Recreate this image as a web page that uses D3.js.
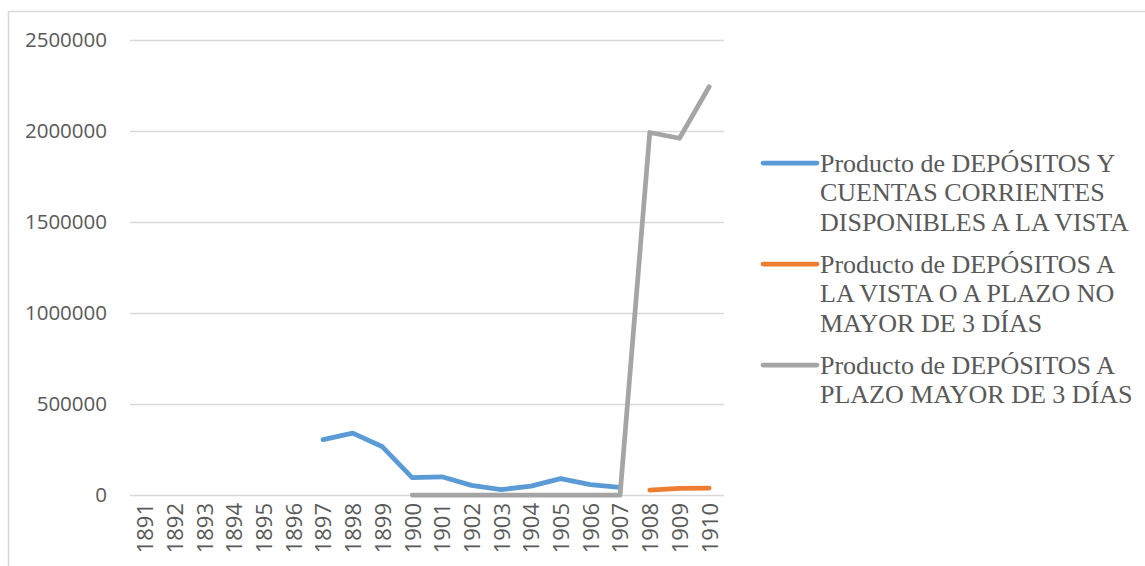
<!DOCTYPE html>
<html>
<head>
<meta charset="utf-8">
<script src="https://cdn.jsdelivr.net/npm/d3@7"></script>
<style>
  body { margin: 0; background: #fff; }
  #chart svg { display: block; }
</style>
</head>
<body>
<div id="chart"></div>
<script>
var years = ["1891", "1892", "1893", "1894", "1895", "1896", "1897", "1898", "1899", "1900",
             "1901", "1902", "1903", "1904", "1905", "1906", "1907", "1908", "1909", "1910"];

// Producto de DEPÓSITOS Y CUENTAS CORRIENTES DISPONIBLES A LA VISTA
var vista = [null, null, null, null, null, null, 304000, 340000, 265000, 95000,
             100000, 53000, 30000, 49000, 90000, 57000, 42000, null, null, null];
// Producto de DEPÓSITOS A LA VISTA O A PLAZO NO MAYOR DE 3 DÍAS
var plazoCorto = [null, null, null, null, null, null, null, null, null, null,
                  null, null, null, null, null, null, null, 27000, 37000, 38000];
// Producto de DEPÓSITOS A PLAZO MAYOR DE 3 DÍAS
var plazoLargo = [null, null, null, null, null, null, null, null, null, 0,
                  0, 0, 0, 0, 0, 0, 0, 1992000, 1960000, 2243000];

var yTicks = [0, 500000, 1000000, 1500000, 2000000, 2500000];

var series = [
  { lines: ["Producto de DEPÓSITOS Y", "CUENTAS CORRIENTES", "DISPONIBLES A LA VISTA"], values: vista, color: "#5B9BD5" },
  { lines: ["Producto de DEPÓSITOS A", "LA VISTA O A PLAZO NO", "MAYOR DE 3 DÍAS"], values: plazoCorto, color: "#ED7D31" },
  { lines: ["Producto de DEPÓSITOS A", "PLAZO MAYOR DE 3 DÍAS"], values: plazoLargo, color: "#A5A5A5" }
];

var width = 1145, height = 566;

var svg = d3.select("#chart").append("svg")
  .attr("width", width)
  .attr("height", height);

// chart frame, runs off the right and bottom edges
svg.append("rect")
  .attr("x", 8.5).attr("y", 11.5)
  .attr("width", 1200).attr("height", 600)
  .attr("fill", "none")
  .attr("stroke", "#D9D9D9")
  .attr("stroke-width", 1.5);

var x = d3.scalePoint().domain(years).range([130, 724]).padding(0.5);
var y = d3.scaleLinear().domain([0, 2500000]).range([495, 40]);

// gridlines + y labels
var yAxis = d3.axisLeft(y).tickValues(yTicks).tickSize(-(724 - 130)).tickPadding(23).tickFormat(d3.format("d"));
var gy = svg.append("g").attr("transform", "translate(130,0)").call(yAxis);
gy.select(".domain").remove();
gy.selectAll(".tick line").attr("stroke", "#D9D9D9").attr("stroke-width", 1.5);
gy.selectAll(".tick text")
  .attr("fill", "#595959")
  .style("font-family", "'Open Sans', sans-serif")
  .style("font-size", "20.5px");

// x labels, rotated
var xAxis = d3.axisBottom(x).tickSize(0).tickPadding(0);
var gx = svg.append("g").attr("transform", "translate(0,495)").call(xAxis);
gx.select(".domain").remove();
gx.selectAll(".tick text")
  .attr("fill", "#595959")
  .style("font-family", "'Open Sans', sans-serif")
  .style("font-size", "22px")
  .attr("text-anchor", "end")
  .attr("dy", "0.36em")
  .attr("transform", "translate(0,8) rotate(-90)")
  .attr("x", 0).attr("y", 0);

var line = d3.line()
  .defined(function(d) { return d != null; })
  .x(function(d, i) { return x(years[i]); })
  .y(function(d) { return y(d); });

series.forEach(function(s) {
  svg.append("path")
    .datum(s.values)
    .attr("d", line)
    .attr("fill", "none")
    .attr("stroke", s.color)
    .attr("stroke-width", 4.75)
    .attr("stroke-linecap", "round")
    .attr("stroke-linejoin", "round");
});

// legend
var legendTop = [163, 264, 365];
var lineGap = 29.5;
series.forEach(function(s, k) {
  var g = svg.append("g").attr("transform", "translate(0," + legendTop[k] + ")");
  g.append("line")
    .attr("x1", 763).attr("x2", 817)
    .attr("y1", 0).attr("y2", 0)
    .attr("stroke", s.color)
    .attr("stroke-width", 4.75)
    .attr("stroke-linecap", "round");
  g.selectAll("text").data(s.lines).enter().append("text")
    .attr("x", 820)
    .attr("y", function(d, i) { return i * lineGap + 8.5; })
    .attr("fill", "#595959")
    .style("font-family", "'Liberation Serif', 'Times New Roman', serif")
    .style("font-size", "26px")
    .text(function(d) { return d; });
});
</script>
</body>
</html>
